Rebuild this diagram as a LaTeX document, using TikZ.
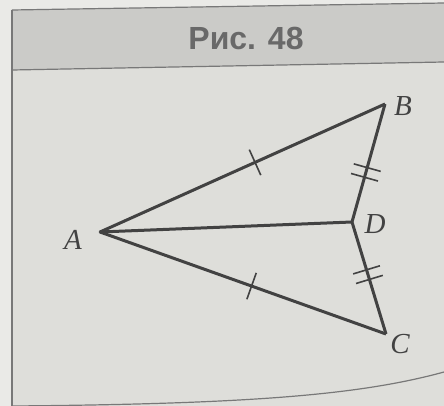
\documentclass[tikz,border=0pt]{standalone}
\usepackage{fontspec}
\setmainfont{Liberation Serif}
\newfontfamily\headfont{Liberation Sans}
\usetikzlibrary{decorations.markings}
\definecolor{paper}{RGB}{222,222,218}
\definecolor{paperlight}{RGB}{234,234,231}
\definecolor{band}{RGB}{203,203,200}
\definecolor{ink}{RGB}{66,66,66}
\definecolor{headink}{RGB}{105,105,105}
\definecolor{rule}{RGB}{120,120,120}
\tikzset{
  side/.style={draw=ink, line width=3pt, line join=miter},
  lbl/.style={text=ink, font=\itshape\fontsize{29}{29}\selectfont, inner sep=0pt},
  onetick/.style={postaction={decorate}, decoration={markings,
     mark=at position #1 with {\draw[ink, line width=1.6pt] (0,-14pt)--(0,14pt);}}},
  twotick/.style={postaction={decorate}, decoration={markings,
     mark=at position #1 with {\draw[ink, line width=1.6pt] (-5pt,-14pt)--(-5pt,14pt) (5pt,-14pt)--(5pt,14pt);}}},
}
\begin{document}
\begin{tikzpicture}[x=1pt,y=-1pt]
\useasboundingbox (0,0) rectangle (444,406);
\fill[paper] (0,0) rectangle (444,406);
\fill[paperlight] (0,0) -- (444,0) -- (444,3) -- (12,10) -- (12,406) -- (0,406) -- cycle;
% header band
\fill[band] (12,10) -- (444,3) -- (444,62) -- (12,70) -- cycle;
\draw[rule, line width=1.2pt] (12,10) -- (444,3);
\draw[rule, line width=1.2pt] (12,70) -- (444,62);
\draw[rule, line width=1.4pt] (12,10) -- (12,406);
\draw[rule, line width=1.2pt] (12,406) .. controls (250,404) and (360,395) .. (444,372);
\node[text=headink, font=\headfont\bfseries\fontsize{32}{32}\selectfont, inner sep=0pt] (title) at (246,38) {Рис. 48};
% points
\coordinate (A) at (100,232);
\coordinate (B) at (385,104);
\coordinate (D) at (352,222);
\coordinate (C) at (386,334);
\draw[side, onetick=0.544] (A) -- (B);
\draw[side, onetick=0.53] (A) -- (C);
\draw[side, twotick=0.58] (B) -- (D);
\draw[side, twotick=0.47] (D) -- (C);
\draw[side] (A) -- (D);
\fill[ink] (A) circle (1.4pt);
% labels
\node[lbl] (lA) at (73,240) {A};
\node[lbl] (lB) at (403,106) {B};
\node[lbl] (lD) at (375,224) {D};
\node[lbl] (lC) at (400,344) {C};
\end{tikzpicture}
\end{document}
